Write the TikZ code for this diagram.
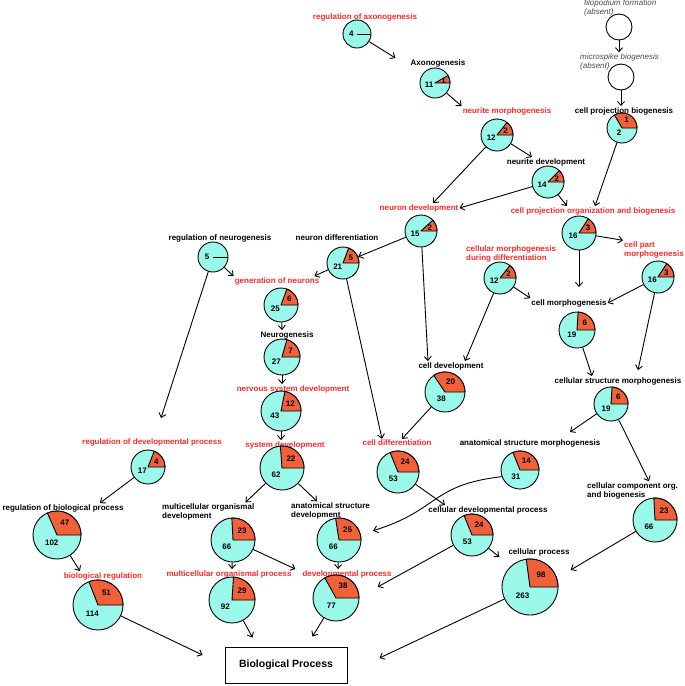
\documentclass[tikz,border=0pt]{standalone}
\usepackage{fontspec}
\setmainfont{Liberation Sans}
\usetikzlibrary{arrows.meta,calc}
\definecolor{goCyan}{HTML}{9AF8EA}
\definecolor{goHit}{HTML}{F2603A}
\definecolor{goRed}{HTML}{FF2A2A}
% pie of one GO term: name, position, radius, hits, rest
\newcommand{\gopie}[5]{%
  \node[pie, minimum size=#3*2pt] (#1) at (#2) {};
  \pgfmathsetmacro{\pieang}{360/(#4+#5)*#4}%
  \ifnum#4>0\relax
    \filldraw[hit] (#1.center) -- ++(0:#3) arc[start angle=0, end angle=-\pieang, radius=#3] -- cycle;
    \node[num] (#1-a) at ($(#1.center)+(-\pieang/2:0.6*#3)$) {#4};
  \else
    \draw[line width=0.9pt] (#1.center) -- (#1.east);
  \fi
  \node[num] (#1-b) at ($(#1.center)+(180-\pieang/2:0.4*#3)$) {#5};}
\begin{document}
\begin{tikzpicture}[x=1pt, y=-1pt, font=\fontsize{8}{9.5}\selectfont\bfseries,
  pie/.style={circle, draw, line width=0.9pt, fill=goCyan, inner sep=0pt},
  absent/.style={circle, draw, line width=0.9pt, fill=white, inner sep=0pt, minimum size=26pt},
  hit/.style={fill=goHit, draw, line width=0.9pt, line join=round},
  num/.style={font=\fontsize{8}{9}\selectfont\bfseries, inner sep=0pt},
  lbl/.style={inner sep=1pt},
  lblR/.style={inner sep=1pt, text=goRed},
  lblA/.style={inner sep=1pt, font=\fontsize{8}{9.5}\selectfont\itshape, text=black!70, align=left, anchor=west},
  arr/.style={-{Straight Barb[length=4pt,width=7pt]}, line width=0.9pt},
  box/.style={draw, line width=0.9pt, minimum width=122pt, minimum height=36pt, font=\fontsize{10.5}{12}\selectfont\bfseries}]
\useasboundingbox (0,0) rectangle (685,686);
% absent terms (top right)
\node[lblA] (filo-l) at (583,8) {filopodium formation\\(absent)};
\node[absent] (filo) at (619,27) {};
\node[lblA] (micro-l) at (579,62) {microspike biogenesis\\(absent)};
\node[absent] (micro) at (621,77) {};
\node[lbl] (cpb-l) at (624,111) {cell projection biogenesis};
\gopie{cpb}{622,128}{15}{1}{2}
% axon branch
\node[lblR] (rax-l) at (365,17) {regulation of axonogenesis};
\gopie{rax}{357,34}{14}{0}{4}
\node[lbl] (axo-l) at (438,63) {Axonogenesis};
\gopie{axo}{435,83}{15}{1}{11}
\node[lblR] (nmo-l) at (507,111) {neurite morphogenesis};
\gopie{nmo}{497,135}{16}{2}{12}
\node[lbl] (nrd-l) at (546,162) {neurite development};
\gopie{nrd}{548,182}{16}{2}{14}
\node[lblR] (ndev-l) at (419,208) {neuron development};
\gopie{ndev}{421,231}{16}{2}{15}
\node[lblR] (cpob-l) at (593,211) {cell projection organization and biogenesis};
\gopie{cpob}{579,233}{17}{3}{16}
% neurogenesis column
\node[lbl] (rng-l) at (220,238) {regulation of neurogenesis};
\gopie{rng}{213,257}{15}{0}{5}
\node[lbl] (ndif-l) at (337,238) {neuron differentiation};
\gopie{ndif}{343,263}{16}{5}{21}
\node[lblR] (gon-l) at (277,281) {generation of neurons};
\gopie{gon}{281,305}{17}{6}{25}
\node[lbl] (ngen-l) at (287,335) {Neurogenesis};
\gopie{ngen}{282,357}{18}{7}{27}
\node[lblR] (nsd-l) at (293,389) {nervous system development};
\gopie{nsd}{281,411}{20}{12}{43}
\node[lblR] (sd-l) at (285,445) {system development};
\gopie{sd}{282,468}{22}{22}{62}
% cell morphogenesis branch
\node[lblR, align=left, anchor=west] (cmdd-l) at (465,254) {cellular morphogenesis\\during differentiation};
\gopie{cmdd}{500,278}{16}{2}{12}
\node[lblR, align=left, anchor=west] (cpm-l) at (623,250) {cell part\\morphogenesis};
\gopie{cpm}{658,277}{16}{3}{16}
\node[lbl] (cmo-l) at (569,303) {cell morphogenesis};
\gopie{cmo}{577,330}{18}{6}{19}
\node[lbl] (cdev-l) at (451,366) {cell development};
\gopie{cdev}{445,392}{20}{20}{38}
\node[lbl] (csm-l) at (618,381) {cellular structure morphogenesis};
\gopie{csm}{611,404}{17}{6}{19}
% middle row
\node[lblR] (rdp-l) at (152,442) {regulation of developmental process};
\gopie{rdp}{148,467}{17}{4}{17}
\node[lblR] (cdif-l) at (397,443) {cell differentiation};
\gopie{cdif}{398,472}{21}{24}{53}
\node[lbl] (asm-l) at (530,443) {anatomical structure morphogenesis};
\gopie{asm}{520,470}{19}{14}{31}
\node[lbl, align=left, anchor=west] (ccob-l) at (586,491) {cellular component org.\\and biogenesis};
\gopie{ccob}{655,520}{22}{23}{66}
% lower rows
\node[lbl] (rbp-l) at (63,508) {regulation of biological process};
\gopie{rbp}{57,535}{24}{47}{102}
\node[lbl, align=left, anchor=west] (mod-l) at (161,512) {multicellular organismal\\development};
\gopie{mod}{233,540}{22}{23}{66}
\node[lbl, align=left, anchor=west] (asd-l) at (290,511) {anatomical structure\\development};
\gopie{asd}{339,540}{22}{25}{66}
\node[lbl] (cdp-l) at (488,510) {cellular developmental process};
\gopie{cdp}{472,535}{21}{24}{53}
\node[lbl] (cp-l) at (539,552) {cellular process};
\gopie{cp}{530,587}{28}{98}{263}
\node[lblR] (brg-l) at (103,576) {biological regulation};
\gopie{brg}{98,605}{25}{51}{114}
\node[lblR] (mop-l) at (229,574) {multicellular organismal process};
\gopie{mop}{232,600}{23}{29}{92}
\node[lblR] (dp-l) at (347,574) {developmental process};
\gopie{dp}{336,598}{23}{38}{77}
\node[box] (bp) at (286,665) {Biological Process};
% arrows
\draw[arr] (filo) -- (filo |- micro-l.north);
\draw[arr] (micro) -- (micro |- cpb-l.north);
\draw[arr] (rax) -- ([xshift=-14pt]axo-l.north west);
\draw[arr] (axo) -- (nmo-l.north west);
\draw[arr] (nmo) -- ([xshift=14pt]ndev-l.north);
\draw[arr] (nmo) -- ([xshift=-14pt]nrd-l.north);
\draw[arr] (nrd) -- (ndev-l.east);
\draw[arr] (nrd) -- ([xshift=-26pt]cpob-l.north);
\draw[arr] (cpb) -- ([xshift=2pt]cpob-l.north);
\draw[arr] (ndev) -- (ndif);
\draw[arr] (ndev) -- ([xshift=-23pt]cdev-l.north);
\draw[arr] (cpob) -- (cpm-l.north west);
\draw[arr] (cpob) -- ([xshift=10pt,yshift=11pt]cmo-l.north);
\draw[arr] (rng) -- (gon-l.north west);
\draw[arr] (rng) -- ([xshift=9pt,yshift=19pt]rdp-l.north);
\draw[arr] (ndif) -- ([xshift=-6pt]gon-l.north east);
\draw[arr] (ndif) -- ([xshift=-15pt]cdif-l.north);
\draw[arr] (cmdd) -- (cmo-l.north west);
\draw[arr] (cmdd) -- ([xshift=14pt]cdev-l.north);
\draw[arr] (cpm) -- (cmo-l.east);
\draw[arr] (cpm) -- ([xshift=20pt,yshift=6pt]csm-l.north);
\draw[arr] (gon) -- ([xshift=-5pt]ngen-l.north);
\draw[arr] (ngen) -- ([xshift=-11pt]nsd-l.north);
\draw[arr] (nsd) -- ([xshift=-4pt]sd-l.north);
\draw[arr] (sd) -- ([xshift=-10pt]mod-l.north east);
\draw[arr] (sd) -- ([xshift=27pt]asd-l.north west);
\draw[arr] (cdev) -- ([xshift=5pt]cdif-l.north);
\draw[arr] (cmo) -- ([xshift=-26pt]csm-l.north);
\draw[arr] (csm) -- ([xshift=40pt,yshift=6pt]asm-l.north);
\draw[arr] (csm) -- ([xshift=63pt]ccob-l.north west);
\draw[arr] (rdp) -- ([xshift=37pt]rbp-l.north);
\draw[arr] (cdif) -- ([xshift=-43pt]cdp-l.north);
\draw[arr] (asm.200) .. controls (430,485) and (440,510) .. ([xshift=2pt,yshift=-10pt]asd-l.south east);
\draw[arr] (rbp) -- ([xshift=-23pt]brg-l.north);
\draw[arr] (mod) -- ([xshift=3pt]mop-l.north);
\draw[arr] (mod) -- ([xshift=-6pt]dp-l.north west);
\draw[arr] (asd) -- ([xshift=-9pt]dp-l.north);
\draw[arr] (cdp) -- ([xshift=-15pt,yshift=-8pt]dp-l.south east);
\draw[arr] (cdp) -- ([xshift=-8pt]cp-l.south west);
\draw[arr] (ccob) -- ([yshift=-18pt]cp-l.east);
\draw[arr] (brg) -- ([xshift=-22pt,yshift=10pt]bp.west);
\draw[arr] (mop) -- ([xshift=28pt,yshift=9pt]bp.north west);
\draw[arr] (dp) -- ([xshift=-35pt,yshift=10pt]bp.north east);
\draw[arr] (cp) -- ([xshift=32pt,yshift=7pt]bp.east);
\end{tikzpicture}
\end{document}
